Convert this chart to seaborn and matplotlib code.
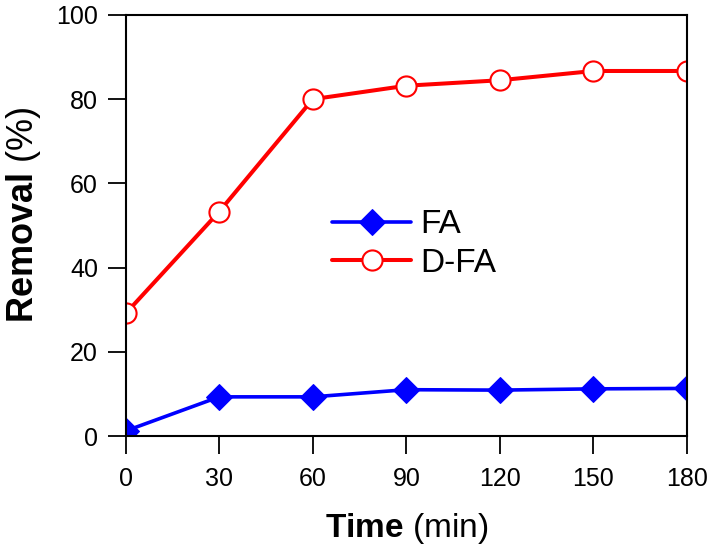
import matplotlib
matplotlib.use("Agg")
import matplotlib.pyplot as plt
import seaborn as sns
import pandas as pd

time_min = [0, 30, 60, 90, 120, 150, 180]
fa_removal = [1.2, 9.3, 9.3, 11.0, 10.9, 11.2, 11.3]
dfa_removal = [29.1, 53.3, 80.0, 83.2, 84.5, 86.7, 86.7]
series_names = ["FA", "D-FA"]
x_ticks = [0, 30, 60, 90, 120, 150, 180]
y_ticks = [0, 20, 40, 60, 80, 100]

sns.set_style("ticks")
plt.rcParams["font.family"] = ["Liberation Sans", "DejaVu Sans"]
plt.rcParams["mathtext.fontset"] = "custom"
plt.rcParams["mathtext.bf"] = "Liberation Sans:bold"
plt.rcParams["mathtext.rm"] = "Liberation Sans"
plt.rcParams["text.color"] = "black"
plt.rcParams["axes.labelcolor"] = "black"
plt.rcParams["xtick.color"] = "black"
plt.rcParams["ytick.color"] = "black"

df = pd.DataFrame({
    "Time": time_min * 2,
    "Removal": fa_removal + dfa_removal,
    "Series": [series_names[0]] * len(time_min) + [series_names[1]] * len(time_min),
})

fig = plt.figure(figsize=(7.1, 5.51), dpi=100)
ax = fig.add_axes([0.177, 0.2087, 0.9676 - 0.177, 0.9728 - 0.2087])

sns.lineplot(data=df[df.Series == "FA"], x="Time", y="Removal", ax=ax,
             color="#0000ff", lw=2.6, marker="D", markersize=13.5,
             markeredgecolor="#0000ff", markerfacecolor="#0000ff",
             label="FA", clip_on=True)
sns.lineplot(data=df[df.Series == "D-FA"], x="Time", y="Removal", ax=ax,
             color="#ff0000", lw=2.9, marker="o", markersize=14.5,
             markeredgecolor="#ff0000", markerfacecolor="white",
             markeredgewidth=1.5, label="D-FA", clip_on=True)

ax.set_xlim(0, 180)
ax.set_ylim(0, 100)
ax.set_xticks(x_ticks)
ax.set_yticks(y_ticks)
ax.set_xticklabels([str(t) for t in x_ticks])
ax.set_yticklabels([str(t) for t in y_ticks])
ax.tick_params(axis="both", direction="out", length=13, width=1.3,
               colors="black", labelsize=18, pad=7)
ax.tick_params(axis="x", pad=9)
for s in ax.spines.values():
    s.set_linewidth(1.5)
    s.set_color("black")
    s.set_visible(True)

ax.set_xlabel(r"$\mathbf{Time}$ (min)", fontsize=24, labelpad=15, color="black")
ax.set_ylabel(r"$\mathbf{Removal}$ (%)", fontsize=26, color="black")
ax.yaxis.set_label_coords(-0.148, 0.525)

leg = ax.legend(loc="center left", bbox_to_anchor=(332 / 710, 1 - 244 / 551),
                bbox_transform=fig.transFigure, frameon=False, fontsize=24,
                handlelength=2.37, handletextpad=0.27, labelspacing=0.22,
                borderpad=0, borderaxespad=0)
for t in leg.get_texts():
    t.set_color("black")

fig.savefig("out.png", dpi=100)
